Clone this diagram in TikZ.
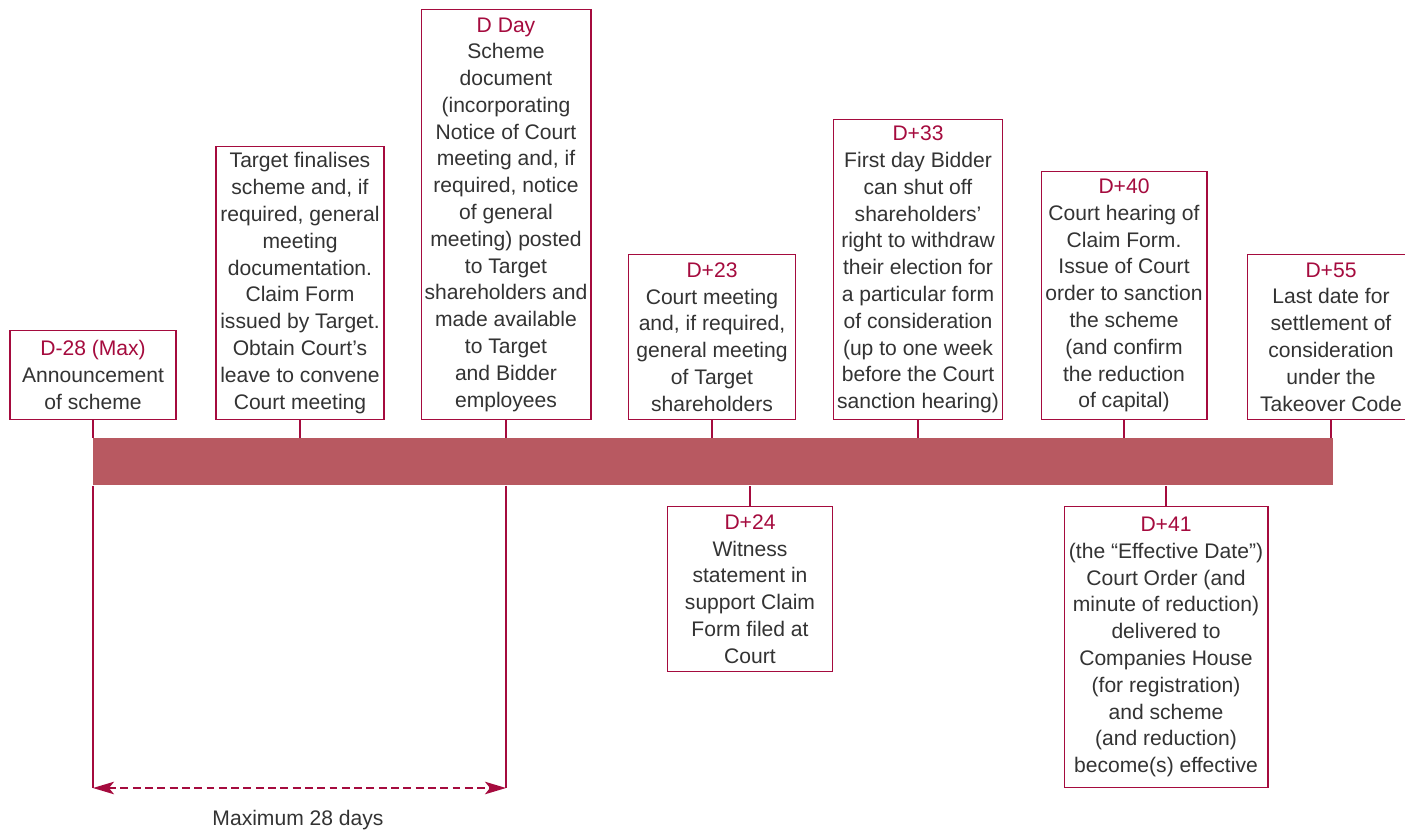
\documentclass[tikz,border=0pt]{standalone}
\usepackage{fontspec}
\setmainfont{Liberation Sans}
\usetikzlibrary{arrows.meta}
\definecolor{schemered}{HTML}{A50B3E}
\definecolor{barred}{HTML}{B85961}
\definecolor{textgrey}{HTML}{333333}
\newcommand{\dayhead}[1]{\textcolor{schemered}{#1}}

\begin{document}
\begin{tikzpicture}[x=0.02cm,y=-0.02cm,
    datebox/.style={draw=schemered, line width=0.6pt, fill=white, align=center,
      text=textgrey, inner xsep=2pt, inner ysep=2pt,
      font=\fontsize{12}{15.25}\selectfont},
    stem/.style={draw=schemered, line width=1.2pt},
    >={Stealth[length=0.42cm, width=0.25cm, inset=0.1cm]}]
    \useasboundingbox (0,0) rectangle (1405,831);

    \node[fill=barred, minimum width=24.8cm, minimum height=0.94cm, inner sep=0pt, anchor=north west] (bar) at (93,438) {};

    \node[datebox, minimum width=3.32cm, minimum height=1.78cm, anchor=south] (dminus28) at (93,420)
        {\dayhead{D-28 (Max)}\\Announcement\\of scheme};
    \node[datebox, minimum width=3.36cm, minimum height=5.46cm, anchor=south] (target) at (300,420)
        {Target finalises\\scheme and, if\\required, general\\meeting\\documentation.\\Claim Form\\issued by Target.\\Obtain Court’s\\leave to convene\\Court meeting};
    \node[datebox, minimum width=3.34cm, minimum height=8.2cm, anchor=south] (dday) at (506,420)
        {\dayhead{D Day}\\Scheme\\document\\(incorporating\\Notice of Court\\meeting and, if\\required, notice\\of general\\meeting) posted\\to Target\\shareholders and\\made available\\to Target\\and Bidder\\employees};
    \node[datebox, minimum width=3.34cm, minimum height=3.3cm, anchor=south] (dplus23) at (712,420)
        {\dayhead{D+23}\\Court meeting\\and, if required,\\general meeting\\of Target\\shareholders};
    \node[datebox, minimum width=3.38cm, minimum height=6.0cm, anchor=south] (dplus33) at (918,420)
        {\dayhead{D+33}\\First day Bidder\\can shut off\\shareholders’\\right to withdraw\\their election for\\a particular form\\of consideration\\(up to one week\\before the Court\\sanction hearing)};
    \node[datebox, minimum width=3.32cm, minimum height=4.96cm, anchor=south] (dplus40) at (1124,420)
        {\dayhead{D+40}\\Court hearing of\\Claim Form.\\Issue of Court\\order to sanction\\the scheme\\(and confirm\\the reduction\\of capital)};
    \node[datebox, minimum width=3.36cm, minimum height=3.3cm, anchor=south] (dplus55) at (1331,420)
        {\dayhead{D+55}\\Last date for\\settlement of\\consideration\\under the\\Takeover Code};

    \node[datebox, minimum width=3.3cm, minimum height=3.3cm, anchor=north] (dplus24) at (750,506)
        {\dayhead{D+24}\\Witness\\statement in\\support Claim\\Form filed at\\Court};
    \node[datebox, minimum width=4.08cm, minimum height=5.62cm, anchor=north] (dplus41) at (1166,506)
        {\dayhead{D+41}\\(the “Effective Date”)\\Court Order (and\\minute of reduction)\\delivered to\\Companies House\\(for registration)\\and scheme\\(and reduction)\\become(s) effective};

    \foreach \datenode in {dminus28,target,dday,dplus23,dplus33,dplus40,dplus55}
        \draw[stem] (\datenode.south) -- (\datenode.south |- bar.north);
    \foreach \datenode in {dplus24,dplus41}
        \draw[stem] (\datenode.north) -- (\datenode.north |- bar.south);

    \coordinate (leftend) at (93,788);
    \coordinate (rightend) at (506,788);
    \draw[stem] (bar.south -| dminus28.south) -- (leftend);
    \draw[stem] (bar.south -| dday.south) -- (rightend);
    \draw[stem, dash pattern=on 4.5pt off 2.5pt, <->] (leftend) -- (rightend);

    \node[text=textgrey, font=\fontsize{12}{15.25}\selectfont] (maxdays) at (298,820) {Maximum 28 days};
\end{tikzpicture}
\end{document}
